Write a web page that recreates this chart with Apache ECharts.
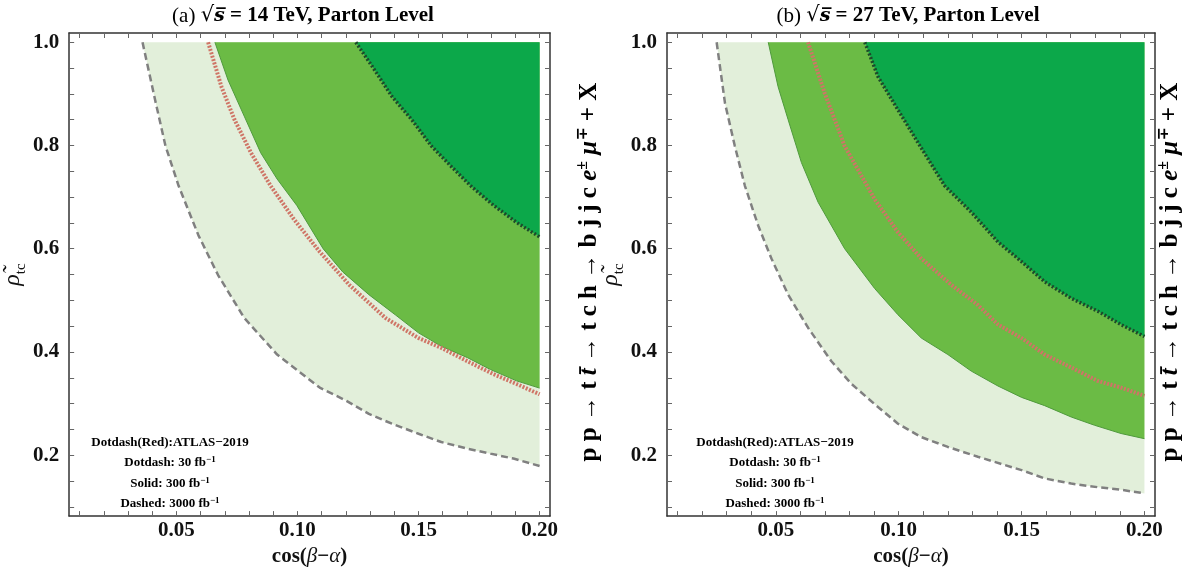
<!DOCTYPE html>
<html style="height: 100%">
<head>
<meta charset="utf-8">
</head>
<body style="height: 100%; margin: 0; background: #fff">
<div id="container" style="width: 1190px; height: 572px"></div>
<script type="text/javascript" src="https://cdn.jsdelivr.net/npm/echarts@6/dist/echarts.min.js"></script>
<script type="text/javascript">
var dom = document.getElementById("container");
var myChart = echarts.init(dom);

// axis ranges and ticks
var xMin = 0.0057, xMax = 0.2043, yMin = 0.082, yMax = 1.018;
var xTicks = [0.01, 0.02, 0.03, 0.04, 0.05, 0.06, 0.07, 0.08, 0.09, 0.10, 0.11, 0.12, 0.13, 0.14, 0.15, 0.16, 0.17, 0.18, 0.19, 0.20];
var xLabels = [0.05, 0.10, 0.15, 0.20];
var yTicks = [0.10, 0.15, 0.20, 0.25, 0.30, 0.35, 0.40, 0.45, 0.50, 0.55, 0.60, 0.65, 0.70, 0.75, 0.80, 0.85, 0.90, 0.95, 1.00];
var yLabels = [0.2, 0.4, 0.6, 0.8, 1.0];

// (a) 14 TeV curves [cos(beta-alpha), rho_tc]
var a_dashed3000 = [[0.0360, 1.0], [0.0415, 0.882], [0.0455, 0.799], [0.0509, 0.722], [0.0591, 0.626], [0.0672, 0.549], [0.0780, 0.466], [0.0916, 0.395], [0.1092, 0.331], [0.120, 0.306], [0.1295, 0.280], [0.139, 0.261], [0.150, 0.2415], [0.1594, 0.2255], [0.1702, 0.2127], [0.1797, 0.203], [0.1892, 0.1935], [0.200, 0.179]];
var a_solid300 = [[0.0659, 1.0], [0.0713, 0.927], [0.078, 0.857], [0.0848, 0.786], [0.0916, 0.735], [0.0997, 0.684], [0.1106, 0.600], [0.1187, 0.555], [0.1295, 0.511], [0.1404, 0.472], [0.150, 0.437], [0.1594, 0.411], [0.1702, 0.389], [0.1797, 0.366], [0.1905, 0.344], [0.200, 0.330]];
var a_dot30 = [[0.1241, 1.0], [0.1309, 0.953], [0.139, 0.895], [0.1472, 0.850], [0.1553, 0.799], [0.1634, 0.760], [0.1715, 0.722], [0.181, 0.684], [0.1905, 0.651], [0.200, 0.623]];
var a_atlas = [[0.0631, 1.0], [0.0686, 0.914], [0.074, 0.850], [0.0808, 0.786], [0.0889, 0.722], [0.0984, 0.658], [0.1092, 0.594], [0.1214, 0.530], [0.1363, 0.466], [0.150, 0.427], [0.1594, 0.408], [0.1702, 0.382], [0.181, 0.357], [0.1905, 0.338], [0.200, 0.318]];

// (b) 27 TeV curves
var b_dashed3000 = [[0.0259, 1.0], [0.0293, 0.882], [0.0333, 0.799], [0.0374, 0.722], [0.0428, 0.645], [0.0482, 0.581], [0.055, 0.511], [0.0631, 0.447], [0.0726, 0.382], [0.0808, 0.338], [0.0902, 0.299], [0.0997, 0.261], [0.1092, 0.235], [0.120, 0.216], [0.1322, 0.197], [0.150, 0.171], [0.1594, 0.155], [0.1702, 0.145], [0.181, 0.138], [0.1905, 0.133], [0.200, 0.126]];
var b_solid300 = [[0.0469, 1.0], [0.0509, 0.914], [0.055, 0.850], [0.0604, 0.767], [0.0672, 0.690], [0.078, 0.600], [0.0902, 0.523], [0.0997, 0.472], [0.1092, 0.427], [0.120, 0.395], [0.1295, 0.363], [0.1404, 0.334], [0.150, 0.312], [0.1594, 0.296], [0.1702, 0.274], [0.1797, 0.258], [0.1905, 0.242], [0.200, 0.232]];
var b_dot30 = [[0.0862, 1.0], [0.0916, 0.933], [0.0997, 0.869], [0.1079, 0.805], [0.1187, 0.722], [0.1295, 0.671], [0.1404, 0.613], [0.150, 0.575], [0.1594, 0.536], [0.1702, 0.504], [0.181, 0.479], [0.1905, 0.453], [0.200, 0.430]];
var b_atlas = [[0.0631, 1.0], [0.0699, 0.901], [0.078, 0.799], [0.0902, 0.696], [0.0997, 0.632], [0.1092, 0.581], [0.1214, 0.530], [0.1322, 0.491], [0.1404, 0.453], [0.150, 0.427], [0.1594, 0.395], [0.1702, 0.370], [0.181, 0.344], [0.1905, 0.331], [0.200, 0.315]];

var serif = '"Liberation Serif", "DejaVu Serif", serif';
var lightG = '#e2efda', midG = '#6bbb45', darkG = '#0ca84a';

function xAx(grid, pos) {
    var bottom = pos === 'bottom';
    return {
        type: 'value', gridIndex: grid, position: pos, min: xMin, max: xMax,
        axisLine: {show: true, onZero: false, lineStyle: {color: '#333', width: 1.5}},
        axisTick: {show: true, inside: true, length: 5, customValues: xTicks, lineStyle: {color: '#666'}},
        axisLabel: {show: bottom, customValues: xLabels, margin: 4,
            formatter: function (v) { return v.toFixed(2); },
            fontFamily: serif, fontWeight: 'bold', fontSize: 21, color: '#111'},
        splitLine: {show: false},
        name: bottom ? '{b|cos(}{i|β}{b|−}{i|α}{b|)}' : '',
        nameLocation: 'middle', nameGap: 27,
        nameTextStyle: {rich: {
            b: {fontFamily: serif, fontWeight: 'bold', fontSize: 21, color: '#111'},
            i: {fontFamily: serif, fontStyle: 'italic', fontSize: 21, color: '#111'}
        }}
    };
}
function yAx(grid, pos) {
    var left = pos === 'left';
    return {
        type: 'value', gridIndex: grid, position: pos, min: yMin, max: yMax,
        axisLine: {show: true, onZero: false, lineStyle: {color: '#333', width: 1.5}},
        axisTick: {show: true, inside: true, length: 5, customValues: yTicks, lineStyle: {color: '#666'}},
        axisLabel: {show: left, customValues: yLabels, margin: 10,
            formatter: function (v) { return v.toFixed(1); },
            fontFamily: serif, fontWeight: 'bold', fontSize: 21, color: '#111'},
        splitLine: {show: false},
        name: left ? '{r|ρ\u0303}{s|tc}' : '',
        nameLocation: 'middle', nameGap: 34, nameRotate: 90,
        nameTextStyle: {rich: {
            r: {fontFamily: serif, fontStyle: 'italic', fontSize: 24, color: '#111', verticalAlign: 'bottom'},
            s: {fontFamily: serif, fontSize: 15, color: '#111', verticalAlign: 'bottom', padding: [0, 0, -4, 0]}
        }}
    };
}

function areaSeries(xi, data, fill, line, z) {
    return {
        type: 'line', xAxisIndex: xi, yAxisIndex: xi, data: data,
        showSymbol: false, symbol: 'none', silent: true, z: z,
        lineStyle: line,
        areaStyle: {color: fill, opacity: 1, origin: 1.0}
    };
}
function lineSeries(xi, data, line, z) {
    return {
        type: 'line', xAxisIndex: xi, yAxisIndex: xi, data: data,
        showSymbol: false, symbol: 'none', silent: true, z: z, lineStyle: line
    };
}

var dashedStyle = {color: '#808080', width: 2.5, type: [7, 4]};
var solidStyle = {color: '#4f9a3c', width: 1};
var dotStyle = {color: '#1d4a2a', width: 3.5, type: [2, 2]};
var atlasStyle = {color: '#cf7566', width: 4, type: [2, 1.5]};

function panelSeries(xi, d3000, s300, d30, atl) {
    return [
        areaSeries(xi, d3000, lightG, dashedStyle, 2),
        areaSeries(xi, s300, midG, solidStyle, 3),
        areaSeries(xi, d30, darkG, dotStyle, 4),
        lineSeries(xi, atl, atlasStyle, 5)
    ];
}

var legendRich = {
    t: {fontFamily: serif, fontWeight: 'bold', fontSize: 13, color: '#111', lineHeight: 16},
    s: {fontFamily: serif, fontWeight: 'bold', fontSize: 9, color: '#111', verticalAlign: 'top', lineHeight: 16}
};
var legendLines = [
    '{t|Dotdash(Red):ATLAS\u22122019}',
    '{t|Dotdash: 30 fb}{s|\u22121}',
    '{t|Solid: 300 fb}{s|\u22121}',
    '{t|Dashed: 3000 fb}{s|\u22121}'
];
var legendY = [443, 463, 484, 504];

var procRich = {
    b: {fontFamily: serif, fontWeight: 'bold', fontSize: 25, color: '#111', lineHeight: 30},
    i: {fontFamily: serif, fontWeight: 'bold', fontStyle: 'italic', fontSize: 25, color: '#111', lineHeight: 30},
    s: {fontFamily: serif, fontWeight: 'bold', fontSize: 16, color: '#111', verticalAlign: 'top', lineHeight: 30}
};
var procText = '{b|p p \u2192 t }{i|t\u0304}{b| \u2192 t c h \u2192 b j j c }{i|e}{s|\u00b1}{i| \u03bc}{s|\u2213}{b| + X}';

var titleRich = {
    n: {fontFamily: serif, fontSize: 21, color: '#111'},
    r: {fontFamily: '"DejaVu Serif", serif', fontSize: 21, color: '#111'},
    s: {fontFamily: '"DejaVu Serif", serif', fontStyle: 'italic', fontWeight: 'bold', fontSize: 19, color: '#111'},
    b: {fontFamily: serif, fontWeight: 'bold', fontSize: 21, color: '#111'}
};

var graphics = [];
[0, 1].forEach(function (p) {
    var cx = p === 0 ? 303 : 908;
    graphics.push({
        type: 'text', x: cx, y: 16,
        style: {text: (p === 0 ? '{n|(a) }{r|\u221a}{s|s\u0305}{b| = 14 TeV, Parton Level}' : '{n|(b) }{r|\u221a}{s|s\u0305}{b| = 27 TeV, Parton Level}'),
            rich: titleRich, align: 'center', verticalAlign: 'middle'}
    });
    var lx = p === 0 ? 170 : 775;
    legendLines.forEach(function (t, i) {
        graphics.push({
            type: 'text', x: lx, y: legendY[i], z: 10,
            style: {text: t, rich: legendRich, align: 'center', verticalAlign: 'middle'}
        });
    });
    graphics.push({
        type: 'text', x: p === 0 ? 590 : 1171, y: 272, rotation: Math.PI / 2,
        style: {text: procText, rich: procRich, align: 'center', verticalAlign: 'middle'}
    });
});

var option = {
    backgroundColor: '#fff',
    animation: false,
    grid: [
        {left: 62, top: 33, width: 488, height: 487},
        {left: 667, top: 33, width: 488, height: 487}
    ],
    xAxis: [xAx(0, 'bottom'), xAx(0, 'top'), xAx(1, 'bottom'), xAx(1, 'top')],
    yAxis: [yAx(0, 'left'), yAx(0, 'right'), yAx(1, 'left'), yAx(1, 'right')],
    series: panelSeries(0, a_dashed3000, a_solid300, a_dot30, a_atlas)
        .concat(panelSeries(2, b_dashed3000, b_solid300, b_dot30, b_atlas)),
    graphic: graphics
};

myChart.setOption(option, true);
</script>
</body>
</html>
